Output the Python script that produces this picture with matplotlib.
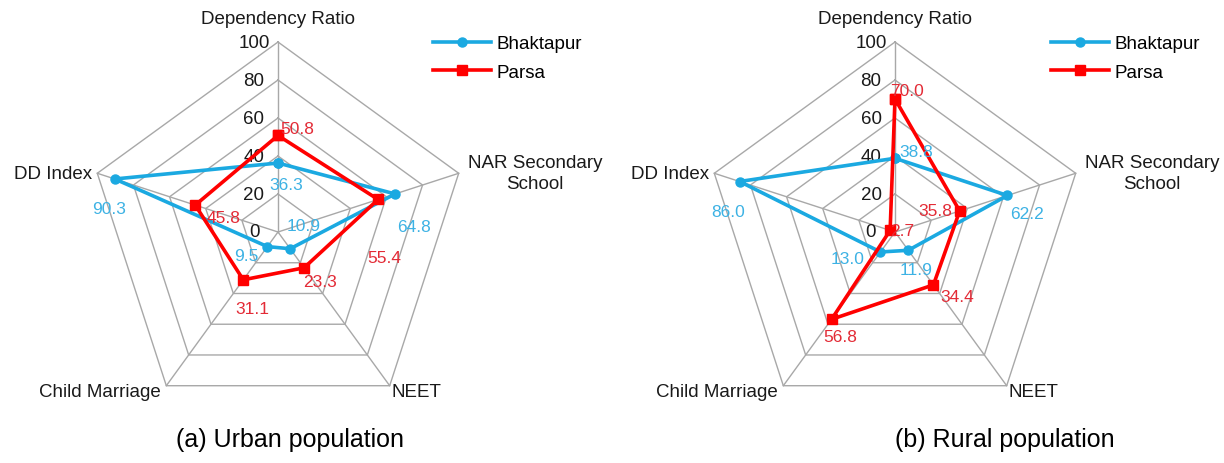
import numpy as np
import matplotlib
matplotlib.use('Agg')
import matplotlib.pyplot as plt

plt.rcParams['font.family'] = ['Liberation Sans', 'DejaVu Sans']

categories = ['Dependency Ratio', 'NAR Secondary\nSchool', 'NEET', 'Child Marriage', 'DD Index']
series_names = ['Bhaktapur', 'Parsa']
rings = [0, 20, 40, 60, 80, 100]

urban_bhaktapur = [36.3, 64.8, 10.9, 9.5, 90.3]
urban_parsa = [50.8, 55.4, 23.3, 31.1, 45.8]
rural_bhaktapur = [38.8, 62.2, 11.9, 13.0, 86.0]
rural_parsa = [70.0, 35.8, 34.4, 56.8, 2.7]

captions = ['(a) Urban population', '(b) Rural population']

blue = '#1BA9E1'
red = '#FF0000'
blue_txt = '#3DB2E4'
red_txt = '#E32B36'
grid_col = '#A8A8A8'

# label offsets in pixels (dx, dy down) for each point
urban_off = {
    'Bhaktapur': [(8, 21), (19, 33), (13, -23), (-21, 9), (-6, 30)],
    'Parsa': [(19, -7), (6, 58), (16, 14), (9, 29), (28, 12)],
}
rural_off = {
    'Bhaktapur': [(21, -7), (20, 18), (8, 19), (-33, 7), (-11, 30)],
    'Parsa': [(12, -8), (-24, 0), (24, 12), (9, 17), (12, 0)],
}

cat_pos = [  # (dx, dy down, ha, va) relative to the outer vertex
    (0, -24, 'center', 'center'),
    (9, 0, 'left', 'center'),
    (2, 6, 'left', 'center'),
    (-6, 6, 'right', 'center'),
    (-5, 0, 'right', 'center'),
]

theta = np.linspace(0, 2 * np.pi, len(categories), endpoint=False)
theta_c = np.append(theta, theta[0])

fig = plt.figure(figsize=(12.24, 4.64), dpi=100)
W, H = 1224, 464


def radar(cx, leg_x, data, offs, caption, cap_x):
    R = 190
    cy = 233
    ax = fig.add_axes([(cx - R) / W, (H - cy - R) / H, 2 * R / W, 2 * R / H],
                      projection='polar')
    ax.set_theta_offset(np.pi / 2)
    ax.set_theta_direction(-1)
    ax.set_ylim(0, 100)
    ax.axis('off')

    for r in rings[1:]:
        ax.plot(theta_c, [r] * len(theta_c), color=grid_col, lw=1, clip_on=False, zorder=1)
    for t in theta:
        ax.plot([t, t], [0, 100], color=grid_col, lw=1, clip_on=False, zorder=1)
    for r in rings:
        ax.annotate(str(r), xy=(0, r), xytext=(-24, 0), textcoords='offset pixels',
                    ha='center', va='center', fontsize=13.5, color='#1A1A1A')

    for i, lab in enumerate(categories):
        dx, dy, ha, va = cat_pos[i]
        ax.annotate(lab, xy=(theta[i], 100), xytext=(dx, -dy), textcoords='offset pixels',
                    ha=ha, va=va, fontsize=13.5, color='#1A1A1A', linespacing=1.3,
                    multialignment='center', annotation_clip=False)

    styles = {'Bhaktapur': dict(color=blue, marker='o', ms=6.5),
              'Parsa': dict(color=red, marker='s', ms=7)}
    txtc = {'Bhaktapur': blue_txt, 'Parsa': red_txt}
    for name, vals in zip(series_names, data):
        v = np.append(vals, vals[0])
        ax.plot(theta_c, v, lw=2.6, label=name, clip_on=False, zorder=3, **styles[name])
        for i, val in enumerate(vals):
            dx, dy = offs[name][i]
            ax.annotate(f'{val:.1f}', xy=(theta[i], val), xytext=(dx, -dy),
                        textcoords='offset pixels', ha='center', va='center',
                        fontsize=12.5, color=txtc[name], zorder=4)

    ax.legend(loc='upper left', bbox_to_anchor=(leg_x / W, 1 - 36 / H),
              bbox_transform=fig.transFigure, frameon=False, fontsize=13.5,
              handlelength=3.1, handletextpad=0.3, labelspacing=0.6,
              borderaxespad=0, borderpad=0)
    fig.text(cap_x / W, 1 - 440 / H, caption, ha='center', va='center', fontsize=18)


radar(278, 433, [urban_bhaktapur, urban_parsa], urban_off, captions[0], 290)
radar(895, 1051, [rural_bhaktapur, rural_parsa], rural_off, captions[1], 1005)

fig.savefig('out.png', dpi=100)
